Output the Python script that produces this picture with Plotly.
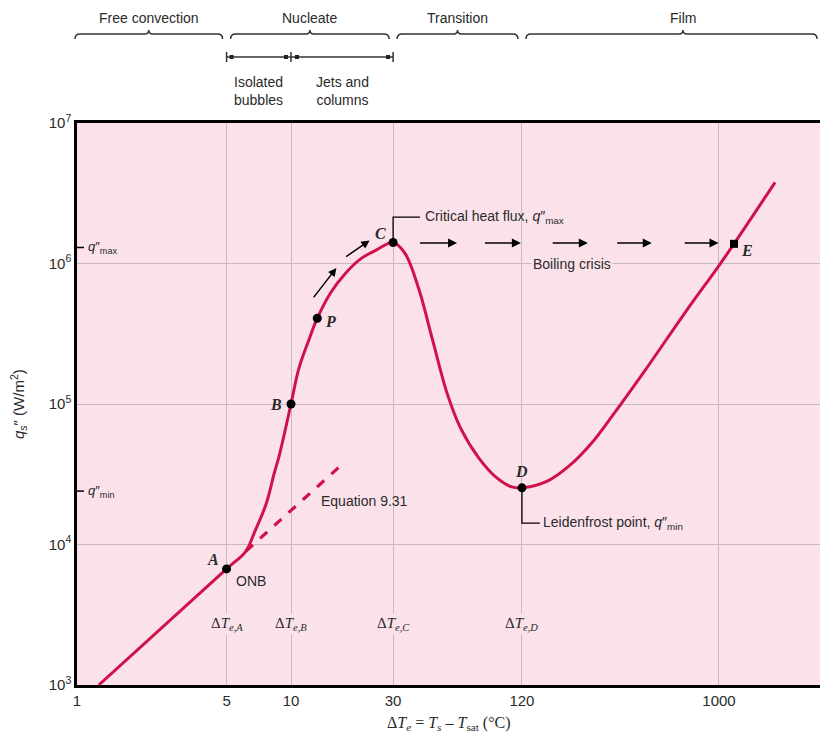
import math
import plotly.graph_objects as go

# ---------------- data ----------------
curve_dT = [1.264, 5, 6.15, 6.78, 7.65, 8.34, 8.86, 10, 10.87, 12.07, 13.27, 15.35,
            17.78, 21.0, 25.1, 30, 34.1, 39.6, 46.0, 53.5, 62.1, 75.8, 92.5, 107.5,
            120, 158.6, 200, 253, 319, 453, 697, 1000, 1175, 1828]
curve_q = [1.0e3, 6.7e3, 8.95e3, 1.24e4, 1.94e4, 3.19e4, 4.44e4, 1.0e5, 1.78e5, 2.81e5,
           4.08e5, 6.22e5, 8.35e5, 1.07e6, 1.25e6, 1.41e6, 1.18e6, 6.55e5, 2.81e5,
           1.205e5, 6.71e4, 4.09e4, 2.94e4, 2.57e4, 2.53e4, 2.84e4, 3.64e4, 5.24e4,
           8.33e4, 1.75e5, 4.51e5, 9.67e5, 1.38e6, 3.78e6]

eq931_dT = [6.15, 17.4]
eq931_q = [8.95e3, 3.74e4]

point_labels = ["A", "B", "P", "C", "D"]
point_dT = [5, 10, 13.27, 30, 120]
point_q = [6.7e3, 1.0e5, 4.08e5, 1.41e6, 2.53e4]

E_dT = [1175]
E_q = [1.38e6]

q_max = 1.3e6
q_min = 2.4e4

crisis_tail_dT = [39.4, 79.3, 164.4, 328.9, 680.8]
crisis_head_dT = [59.7, 118.6, 243.8, 485, 995]
crisis_q = 1.4e6

x_tick_vals = [1, 5, 10, 30, 120, 1000]
x_tick_text = ["1", "5", "10", "30", "120", "1000"]
y_tick_vals = [1e3, 1e4, 1e5, 1e6, 1e7]
y_tick_text = ["10<sup>3</sup>", "10<sup>4</sup>", "10<sup>5</sup>", "10<sup>6</sup>", "10<sup>7</sup>"]

regime_names = ["Free convection", "Nucleate", "Transition", "Film"]
regime_bounds = [1, 5, 30, 120, 3000]

dTe_labels = ["A", "B", "C", "D"]
dTe_vals = [5, 10, 30, 120]

# ---------------- styling ----------------
RED = "#d1124a"
PINK = "#fbe2ea"
GRID = "#c6b9bf"
TXT = "#2a2a2a"
SANS = "Liberation Sans, Arial, sans-serif"
SERIF = "Liberation Serif, Times New Roman, serif"

XMAX_LOG = 3.472
PW, PH = 743, 562  # plot area size in px


def px(v):
    return math.log10(v) / XMAX_LOG


def py(pix):  # pixel row in the figure -> paper y
    return (685 - pix) / PH


fig = go.Figure()

fig.add_trace(go.Scatter(x=curve_dT, y=curve_q, mode="lines",
                         line=dict(color=RED, width=3, shape="spline", smoothing=1.0),
                         hoverinfo="skip"))
fig.add_trace(go.Scatter(x=eq931_dT, y=eq931_q, mode="lines",
                         line=dict(color=RED, width=3.2, dash="dash"), hoverinfo="skip"))

# q''max / q''min ticks on the left axis
fig.add_trace(go.Scatter(x=[1, 1.078], y=[q_max, q_max], mode="lines",
                         line=dict(color="black", width=1.5), hoverinfo="skip"))
fig.add_trace(go.Scatter(x=[1, 1.078], y=[q_min, q_min], mode="lines",
                         line=dict(color="black", width=1.5), hoverinfo="skip"))

# leader lines
fig.add_trace(go.Scatter(x=[30, 30, 40.1], y=[point_q[3], 2.14e6, 2.14e6], mode="lines",
                         line=dict(color="black", width=1.3), hoverinfo="skip"))
fig.add_trace(go.Scatter(x=[120, 120, 145.6], y=[point_q[4], 1.42e4, 1.42e4], mode="lines",
                         line=dict(color="black", width=1.3), hoverinfo="skip"))

fig.add_trace(go.Scatter(x=point_dT, y=point_q, mode="markers",
                         marker=dict(color="black", size=9), hoverinfo="skip"))
fig.add_trace(go.Scatter(x=E_dT, y=E_q, mode="markers",
                         marker=dict(color="black", size=8, symbol="square"), hoverinfo="skip"))

ann = []
L = math.log10


def txt(**kw):
    kw.setdefault("showarrow", False)
    kw.setdefault("xanchor", "center")
    kw.setdefault("yanchor", "middle")
    ann.append(kw)


# point labels
offsets = {"A": (-14, 9), "B": (-15, 0), "P": (13, -3), "C": (-13, 9), "D": (0, 16)}
for lab, xv, yv in zip(point_labels, point_dT, point_q):
    dx, dy = offsets[lab]
    txt(x=L(xv), y=L(yv), xref="x", yref="y", text=f"<b><i>{lab}</i></b>",
        xshift=dx, yshift=dy, font=dict(family=SERIF, size=16, color=TXT))
txt(x=L(E_dT[0]), y=L(E_q[0]), xref="x", yref="y", text="<b><i>E</i></b>",
    xshift=13, yshift=-7, font=dict(family=SERIF, size=16, color=TXT))
txt(x=L(point_dT[0]), y=L(point_q[0]), xref="x", yref="y", text="ONB",
    xanchor="left", xshift=7, yshift=-12, font=dict(family=SANS, size=14, color=TXT))

# texts in plot
txt(x=L(13.5), y=L(2.04e4), xref="x", yref="y", text="Equation 9.31",
    xanchor="left", font=dict(family=SANS, size=14, color=TXT))
txt(x=L(41.5), y=L(2.14e6), xref="x", yref="y",
    text="Critical heat flux, <i>q</i>″<sub>max</sub>",
    xanchor="left", font=dict(family=SANS, size=14, color=TXT))
txt(x=L(148), y=L(1.42e4), xref="x", yref="y",
    text="Leidenfrost point, <i>q</i>″<sub>min</sub>",
    xanchor="left", font=dict(family=SANS, size=14, color=TXT))
txt(x=L(205), y=6, xref="x", yref="y", text="Boiling crisis", bgcolor=PINK,
    font=dict(family=SANS, size=14, color=TXT))
txt(x=L(1.1), y=L(q_max), xref="x", yref="y", text="<i>q</i>″<sub>max</sub>",
    xanchor="left", font=dict(family=SANS, size=13, color=TXT))
txt(x=L(1.1), y=L(q_min), xref="x", yref="y", text="<i>q</i>″<sub>min</sub>",
    xanchor="left", font=dict(family=SANS, size=13, color=TXT))

for lab, xv in zip(dTe_labels, dTe_vals):
    txt(x=L(xv), y=L(2.72e3), xref="x", yref="y",
        text=f"Δ<i>T</i><sub><i>e,{lab}</i></sub>", bgcolor=PINK,
        font=dict(family=SERIF, size=15, color=TXT))

# boiling crisis arrows
for t, h in zip(crisis_tail_dT, crisis_head_dT):
    ann.append(dict(x=L(h), y=L(crisis_q), ax=L(t), ay=L(crisis_q), xref="x", yref="y",
                    axref="x", ayref="y", text="", showarrow=True, arrowhead=2,
                    arrowsize=1.2, arrowwidth=1.5, arrowcolor="black"))
# arrows along the nucleate curve
for (tx, ty), (hx, hy) in [((12.6, 5.6e5), (16.3, 9.3e5)), ((17.8, 1.1e6), (23.3, 1.46e6))]:
    ann.append(dict(x=L(hx), y=L(hy), ax=L(tx), ay=L(ty), xref="x", yref="y",
                    axref="x", ayref="y", text="", showarrow=True, arrowhead=2,
                    arrowsize=1.1, arrowwidth=1.5, arrowcolor="black"))

# regime braces and titles above plot
shapes = []
gap = 4 / PW
yl, ye, yb = py(34), py(39), py(30)
for i, name in enumerate(regime_names):
    x0 = px(regime_bounds[i]) + (gap if i > 0 else -2 / PW)
    x1 = px(regime_bounds[i + 1]) - gap
    xm = (x0 + x1) / 2 if i < 3 else px(regime_bounds[i]) + 161 / PW
    d = 5 / PW
    db = 4 / PW
    path = (f"M {x0},{ye} Q {x0},{yl} {x0 + d},{yl} L {xm - db},{yl} "
            f"Q {xm},{yl} {xm},{yb} Q {xm},{yl} {xm + db},{yl} "
            f"L {x1 - d},{yl} Q {x1},{yl} {x1},{ye}")
    shapes.append(dict(type="path", path=path, xref="paper", yref="paper",
                       line=dict(color="#333333", width=1.5)))
    txt(x=xm, y=py(18), xref="paper", yref="paper", text=name,
        font=dict(family=SANS, size=14, color=TXT))

# nucleate sub-bar
yb_ = py(57)
shapes.append(dict(type="line", xref="paper", yref="paper", x0=px(5), x1=px(30), y0=yb_, y1=yb_,
                   line=dict(color="#333333", width=1.5)))
for v in [5, 10, 30]:
    shapes.append(dict(type="line", xref="paper", yref="paper", x0=px(v), x1=px(v),
                       y0=py(52), y1=py(62), line=dict(color="#333333", width=1.5)))
for xc in [px(5) + 5 / PW, px(10) - 5 / PW, px(10) + 6 / PW, px(30) - 5 / PW]:
    shapes.append(dict(type="rect", xref="paper", yref="paper", x0=xc - 2 / PW, x1=xc + 2 / PW,
                       y0=yb_ - 2 / PH, y1=yb_ + 2 / PH, fillcolor="#222222",
                       line=dict(width=0)))
txt(x=(px(5) + px(10)) / 2, y=py(91), xref="paper", yref="paper",
    text="Isolated<br>bubbles", font=dict(family=SANS, size=14, color=TXT))
txt(x=(px(10) + px(30)) / 2, y=py(91), xref="paper", yref="paper",
    text="Jets and<br>columns", font=dict(family=SANS, size=14, color=TXT))

# axis titles
txt(x=0.5, y=py(723), xref="paper", yref="paper",
    text="Δ<i>T<sub>e</sub></i> = <i>T<sub>s</sub></i> – <i>T</i><sub>sat</sub> (°C)",
    font=dict(family=SERIF, size=16, color=TXT))
txt(x=(18 - 77) / PW, y=0.5, xref="paper", yref="paper", textangle=-90,
    text="<i>q</i><sub><i>s</i></sub>″ (W/m<sup>2</sup>)",
    font=dict(family=SANS, size=15, color=TXT))

fig.update_layout(
    width=820, height=734,
    margin=dict(l=77, r=0, t=123, b=49),
    paper_bgcolor="white", plot_bgcolor=PINK,
    showlegend=False,
    annotations=ann, shapes=shapes,
    xaxis=dict(type="log", range=[0, XMAX_LOG], tickvals=x_tick_vals, ticktext=x_tick_text,
               showgrid=True, gridcolor=GRID, gridwidth=1, zeroline=False,
               showline=True, linecolor="black", linewidth=2.5, mirror=True, ticks="",
               tickfont=dict(family=SANS, size=15, color=TXT)),
    yaxis=dict(type="log", range=[3, 7], tickvals=y_tick_vals, ticktext=y_tick_text,
               showgrid=True, gridcolor=GRID, gridwidth=1, zeroline=False,
               showline=True, linecolor="black", linewidth=2.5, ticks="",
               tickfont=dict(family=SANS, size=15, color=TXT)),
)

fig.write_html("out.html", config={"displayModeBar": False},
               post_script="document.body.style.margin='0';document.body.style.overflow='hidden';")
